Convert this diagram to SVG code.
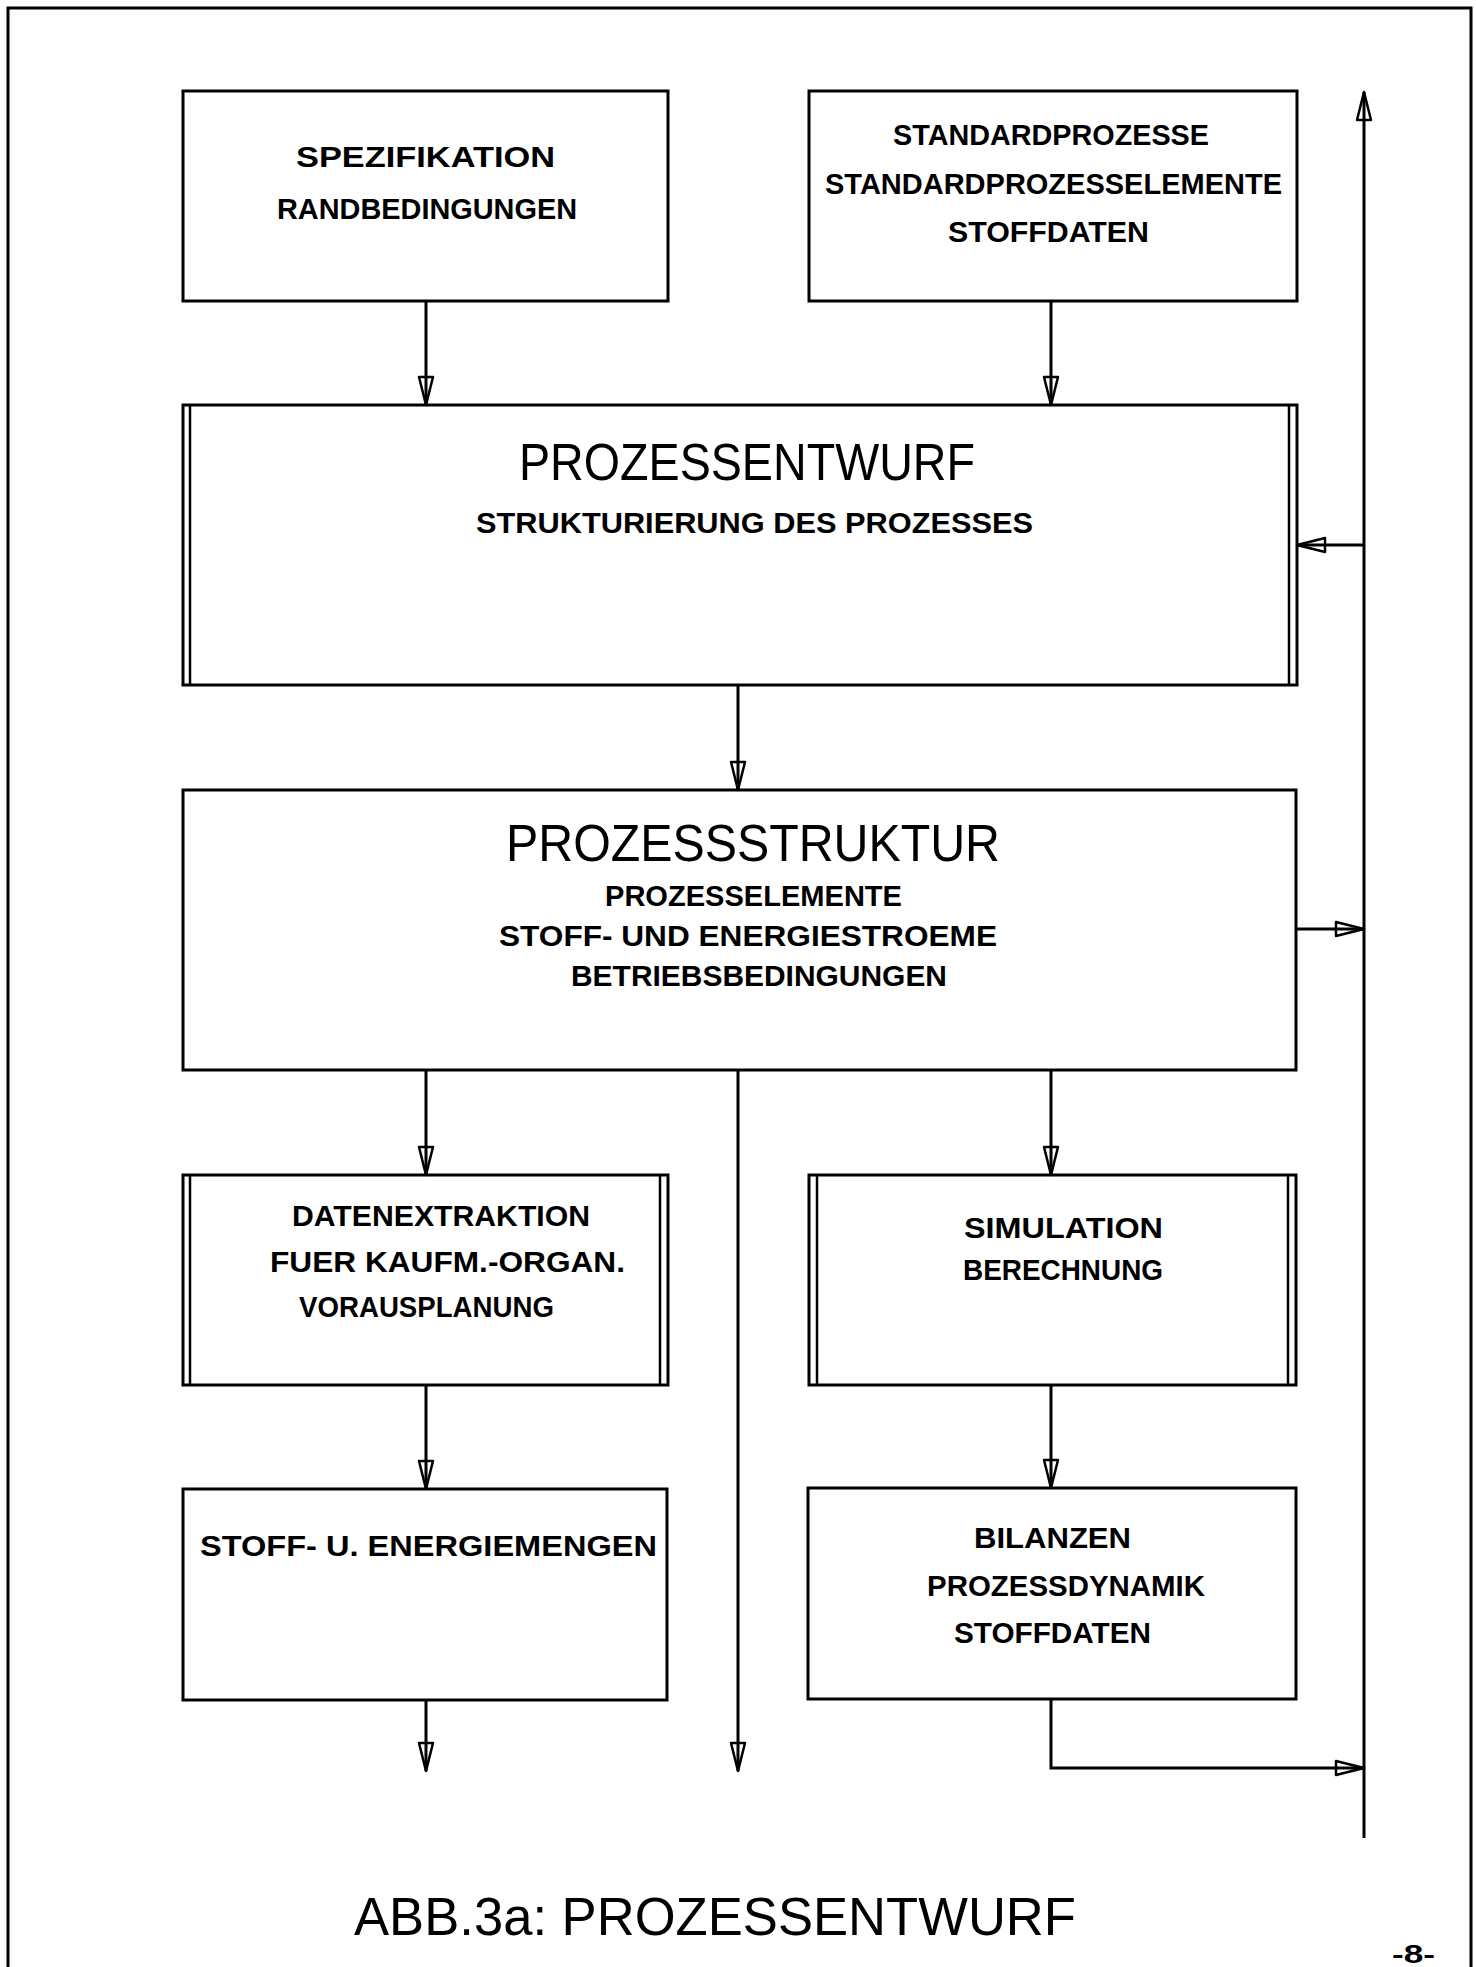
<svg xmlns="http://www.w3.org/2000/svg" width="1476" height="1967" viewBox="0 0 1476 1967">
<style>
.box{fill:none;stroke:#000;stroke-width:3}
.dl{fill:none;stroke:#000;stroke-width:2.5}
.cn{fill:none;stroke:#000;stroke-width:3}
.t{font-family:"Liberation Sans",Arial,sans-serif;font-weight:bold;font-size:29px;fill:#000}
.big{font-family:"Liberation Sans",Arial,sans-serif;font-weight:normal;font-size:52px;fill:#000}
.cap{font-family:"Liberation Sans",Arial,sans-serif;font-weight:normal;font-size:53px;fill:#000}
.pg{font-family:"Liberation Sans",Arial,sans-serif;font-weight:bold;font-size:26px;fill:#000}
</style>
<defs>
<marker id="ah" markerUnits="userSpaceOnUse" markerWidth="34" markerHeight="20" viewBox="-3 -10 34 20" refX="28" refY="0" orient="auto">
<path d="M0,-7 L28,0 L0,7 Z" fill="none" stroke="#000" stroke-width="2.5" stroke-linejoin="round"/>
</marker>
</defs>
<rect width="1476" height="1967" fill="#fff"/>
<path id="frame" d="M8,1967 V8 H1471 V1967" fill="none" stroke="#000" stroke-width="3"/>

<g id="spezifikation">
<rect class="box" x="183" y="91" width="485" height="210"/>
<text class="t" x="296" y="167" textLength="259" lengthAdjust="spacingAndGlyphs">SPEZIFIKATION</text>
<text class="t" x="277" y="219" textLength="300" lengthAdjust="spacingAndGlyphs">RANDBEDINGUNGEN</text>
</g>

<g id="standardprozesse">
<rect class="box" x="809" y="91" width="488" height="210"/>
<text class="t" x="893" y="145" textLength="316" lengthAdjust="spacingAndGlyphs">STANDARDPROZESSE</text>
<text class="t" x="825" y="194" textLength="457" lengthAdjust="spacingAndGlyphs">STANDARDPROZESSELEMENTE</text>
<text class="t" x="948" y="242" textLength="201" lengthAdjust="spacingAndGlyphs">STOFFDATEN</text>
</g>

<g id="prozessentwurf">
<rect class="box" x="183" y="405" width="1114" height="280"/>
<line class="dl" x1="190" y1="405" x2="190" y2="685"/>
<line class="dl" x1="1289" y1="405" x2="1289" y2="685"/>
<text class="big" x="519" y="480" textLength="456" lengthAdjust="spacingAndGlyphs">PROZESSENTWURF</text>
<text class="t" x="476" y="533" textLength="557" lengthAdjust="spacingAndGlyphs">STRUKTURIERUNG DES PROZESSES</text>
</g>

<g id="prozessstruktur">
<rect class="box" x="183" y="790" width="1113" height="280"/>
<text class="big" x="506" y="861" textLength="494" lengthAdjust="spacingAndGlyphs">PROZESSSTRUKTUR</text>
<text class="t" x="605" y="906" textLength="297" lengthAdjust="spacingAndGlyphs">PROZESSELEMENTE</text>
<text class="t" x="499" y="946" textLength="498" lengthAdjust="spacingAndGlyphs">STOFF- UND ENERGIESTROEME</text>
<text class="t" x="571" y="986" textLength="376" lengthAdjust="spacingAndGlyphs">BETRIEBSBEDINGUNGEN</text>
</g>

<g id="datenextraktion">
<rect class="box" x="183" y="1175" width="485" height="210"/>
<line class="dl" x1="190" y1="1175" x2="190" y2="1385"/>
<line class="dl" x1="660" y1="1175" x2="660" y2="1385"/>
<text class="t" x="292" y="1226" textLength="298" lengthAdjust="spacingAndGlyphs">DATENEXTRAKTION</text>
<text class="t" x="270" y="1272" textLength="355" lengthAdjust="spacingAndGlyphs">FUER KAUFM.-ORGAN.</text>
<text class="t" x="299" y="1317" textLength="255" lengthAdjust="spacingAndGlyphs">VORAUSPLANUNG</text>
</g>

<g id="simulation">
<rect class="box" x="809" y="1175" width="487" height="210"/>
<line class="dl" x1="817" y1="1175" x2="817" y2="1385"/>
<line class="dl" x1="1288" y1="1175" x2="1288" y2="1385"/>
<text class="t" x="964" y="1238" textLength="199" lengthAdjust="spacingAndGlyphs">SIMULATION</text>
<text class="t" x="963" y="1280" textLength="200" lengthAdjust="spacingAndGlyphs">BERECHNUNG</text>
</g>

<g id="stoffmengen">
<rect class="box" x="183" y="1489" width="484" height="211"/>
<text class="t" x="200" y="1556" textLength="457" lengthAdjust="spacingAndGlyphs">STOFF- U. ENERGIEMENGEN</text>
</g>

<g id="bilanzen">
<rect class="box" x="808" y="1488" width="488" height="211"/>
<text class="t" x="974" y="1548" textLength="157" lengthAdjust="spacingAndGlyphs">BILANZEN</text>
<text class="t" x="927" y="1596" textLength="278" lengthAdjust="spacingAndGlyphs">PROZESSDYNAMIK</text>
<text class="t" x="954" y="1643" textLength="197" lengthAdjust="spacingAndGlyphs">STOFFDATEN</text>
</g>

<g id="connectors">
<path class="cn" d="M426,301 V405" marker-end="url(#ah)"/>
<path class="cn" d="M1051,301 V405" marker-end="url(#ah)"/>
<path class="cn" d="M738,685 V790" marker-end="url(#ah)"/>
<path class="cn" d="M1296,929 H1364" marker-end="url(#ah)"/>
<path class="cn" d="M1364,1838 V92" marker-end="url(#ah)"/>
<path class="cn" d="M1364,545 H1297" marker-end="url(#ah)"/>
<path class="cn" d="M426,1070 V1175" marker-end="url(#ah)"/>
<path class="cn" d="M1051,1070 V1175" marker-end="url(#ah)"/>
<path class="cn" d="M426,1385 V1489" marker-end="url(#ah)"/>
<path class="cn" d="M1051,1385 V1488" marker-end="url(#ah)"/>
<path class="cn" d="M426,1700 V1771" marker-end="url(#ah)"/>
<path class="cn" d="M738,1070 V1771" marker-end="url(#ah)"/>
<path class="cn" d="M1051,1699 V1768 H1364" marker-end="url(#ah)"/>
</g>

<text id="caption" class="cap" x="354" y="1935" textLength="722" lengthAdjust="spacingAndGlyphs">ABB.3a: PROZESSENTWURF</text>
<text id="page" class="pg" x="1392" y="1963" textLength="43" lengthAdjust="spacingAndGlyphs">-8-</text>
</svg>
